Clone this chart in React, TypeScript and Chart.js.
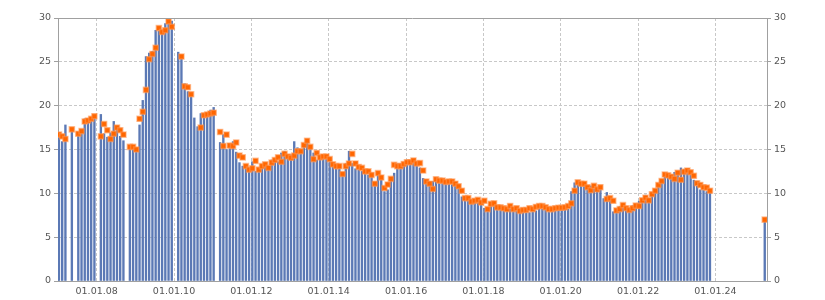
import { useEffect, useRef } from "react";
import { Chart, registerables } from "chart.js";

Chart.register(...registerables);

// Months counted from 01.01.2007 (0 = January 2007)
const AXIS_END_MONTH = 220;
const DAY_OFFSET = 0.3; // values dated ~10th of each month
const xTickMonths = [12, 36, 60, 84, 108, 132, 156, 180, 204];
const xTickLabels = ["01.01.08", "01.01.10", "01.01.12", "01.01.14", "01.01.16", "01.01.18", "01.01.20", "01.01.22", "01.01.24"];
const yMin = 0;
const yMax = 30;
const yStep = 5;

// Monthly bar values, Jan 2007 .. Nov 2023
const barValues: (number | null)[] = [
  16.5, 15.9, 17.8, null, 17.3, null, 17.0, 16.9, 18.5, 18.2,
  18.3, 18.7, null, 19.0, 16.8, 16.4, 16.9, 18.2, 17.6, 16.5,
  16.0, null, 15.3, 15.3, 14.9, 17.8, 20.6, 25.6, 26.0, 26.2,
  28.6, 28.5, 28.3, 29.35, 29.3, 29.65, null, 26.1, 25.4, 22.5,
  21.6, 21.2, 18.6, 17.6, 19.1, 18.8, 19.1, 19.5, 19.8, null,
  15.8, 16.7, 15.0, 15.1, 15.9, 14.7, 13.5, 13.1, 13.0, 12.7,
  13.6, 12.5, 12.7, 13.1, 13.25, 12.9, 13.8, 14.0, 13.6, 14.6,
  14.8, 14.4, 14.4, 15.9, 15.2, 14.8, 15.7, 16.1, 15.2, 14.6,
  13.8, 13.9, 14.2, 14.0, 13.6, 13.3, 13.1, 12.9, 12.1, 13.4,
  14.8, 13.4, 12.8, 12.7, 12.5, 12.3, 12.1, 12.3, 10.9, 12.5,
  11.7, 10.2, 10.4, 11.7, 12.3, 13.4, 13.4, 13.3, 13.4, 13.6,
  13.8, 13.3, 12.9, 11.7, 11.5, 11.35, 11.35, 11.5, 11.35, 11.2,
  11.2, 11.2, 11.0, 10.8, 10.6, 9.6, 9.4, 9.25, 9.25, 8.9,
  8.95, 8.75, 8.3, 8.3, 8.5, 8.5, 8.55, 8.4, 8.3, 8.1,
  8.2, 8.0, 8.0, 8.2, 7.9, 7.8, 7.8, 7.9, 8.0, 8.5,
  8.2, 8.1, 7.9, 8.0, 8.2, 8.3, 8.2, 8.1, 8.2, 10.2,
  11.2, 11.35, 11.2, 10.85, 10.6, 10.85, 10.5, 10.7, 10.5, 9.4,
  10.1, 9.6, 7.9, 7.9, 8.5, 8.3, 8.3, 8.1, 8.6, 8.8,
  9.1, 9.4, 9.8, 9.4, 9.8, 10.4, 11.1, 11.6, 12.0, 11.9,
  12.1, 12.4, 12.5, 12.9, 12.75, 12.7, 12.3, 11.5, 10.8, 10.4,
  10.4, 10.2, 10.2,
];

// Monthly point values, Jan 2007 .. Nov 2023
const pointValues: (number | null)[] = [
  16.7, 16.5, 16.2, null, 17.3, null, 16.8, 17.1, 18.2, 18.3,
  18.5, 18.8, null, 16.5, 17.9, 17.2, 16.2, 16.8, 17.5, 17.2,
  16.7, null, 15.3, 15.3, 15.0, 18.5, 19.3, 21.8, 25.3, 25.9,
  26.6, 28.85, 28.4, 28.6, 29.6, 29.0, null, null, 25.6, 22.2,
  22.1, 21.3, null, null, 17.5, 18.9, 19.0, 19.1, 19.2, null,
  17.0, 15.4, 16.7, 15.45, 15.4, 15.8, 14.3, 14.1, 13.1, 12.7,
  12.85, 13.7, 12.7, 13.1, 13.3, 12.9, 13.5, 13.8, 14.1, 13.6,
  14.5, 14.2, 14.05, 14.3, 14.8, 14.8, 15.5, 16.0, 15.3, 13.9,
  14.6, 14.1, 14.2, 14.2, 13.9, 13.3, 13.1, 13.1, 12.2, 13.1,
  13.4, 14.5, 13.4, 13.0, 12.9, 12.5, 12.5, 12.1, 11.1, 12.3,
  11.8, 10.6, 11.0, 11.65, 13.25, 13.1, 13.1, 13.35, 13.55, 13.55,
  13.75, 13.4, 13.45, 12.6, 11.35, 11.1, 10.5, 11.6, 11.45, 11.45,
  11.3, 11.35, 11.35, 11.1, 10.8, 10.3, 9.45, 9.45, 9.05, 9.15,
  9.25, 8.95, 9.15, 8.2, 8.8, 8.85, 8.4, 8.4, 8.3, 8.2,
  8.55, 8.2, 8.3, 8.0, 8.1, 8.1, 8.3, 8.2, 8.45, 8.55,
  8.55, 8.4, 8.2, 8.2, 8.3, 8.35, 8.35, 8.4, 8.55, 8.85,
  10.3, 11.25, 11.1, 11.1, 10.7, 10.35, 10.85, 10.45, 10.7, null,
  9.35, 9.45, 9.15, 8.05, 8.2, 8.65, 8.3, 8.1, 8.3, 8.6,
  8.55, 9.2, 9.5, 9.2, 9.9, 10.3, 10.95, 11.4, 12.15, 12.05,
  11.9, 11.65, 12.35, 11.55, 12.45, 12.6, 12.4, 12.0, 11.15, 10.95,
  10.7, 10.65, 10.3,
];

// Latest separate observation (April 2025)
const latestMonth = 219;
const latestBar = 6.9;
const latestPoint = 7.0;

const BAR_COLOR = "#5b79b5";
const POINT_COLOR = "#ff6600";
const POINT_HALO = "rgba(255,150,80,0.55)";
const GRID_COLOR = "#c8c8c8";
const AXIS_COLOR = "#a0a0a0";
const TEXT_COLOR = "#555555";
const FONT = { family: "DejaVu Sans", size: 9.5 };

function toXY(values: (number | null)[], lastMonth: number, lastValue: number) {
  const out: { x: number; y: number }[] = [];
  values.forEach((v, i) => {
    if (v !== null) out.push({ x: i + DAY_OFFSET, y: v });
  });
  out.push({ x: lastMonth + DAY_OFFSET, y: lastValue });
  return out;
}

const topBorder = {
  id: "topBorder",
  afterDraw(chart: any) {
    const { ctx, chartArea } = chart;
    ctx.save();
    ctx.strokeStyle = AXIS_COLOR;
    ctx.lineWidth = 1;
    ctx.beginPath();
    ctx.moveTo(chartArea.left, chartArea.top + 0.5);
    ctx.lineTo(chartArea.right, chartArea.top + 0.5);
    ctx.stroke();
    ctx.restore();
  },
};

export default function App() {
  const canvasRef = useRef<HTMLCanvasElement | null>(null);

  useEffect(() => {
    const canvas = canvasRef.current;
    if (!canvas) return;
    const yTickOpts = {
      color: TEXT_COLOR,
      font: FONT,
      stepSize: yStep,
      padding: 3,
    };
    const chart = new Chart(canvas, {
      type: "bar",
      data: {
        datasets: [
          {
            type: "line",
            data: toXY(pointValues, latestMonth, latestPoint),
            showLine: false,
            pointStyle: "rect",
            pointRadius: 3.6,
            pointBackgroundColor: POINT_COLOR,
            pointBorderColor: POINT_HALO,
            pointBorderWidth: 1.5,
            order: 0,
          } as any,
          {
            type: "bar",
            data: toXY(barValues, latestMonth, latestBar),
            backgroundColor: BAR_COLOR,
            barThickness: 1.7,
            order: 1,
          } as any,
        ],
      },
      options: {
        animation: false,
        responsive: false,
        devicePixelRatio: 1,
        layout: { padding: { top: 18, left: 0, right: 0, bottom: 0 } },
        plugins: { legend: { display: false }, tooltip: { enabled: false } },
        scales: {
          x: {
            type: "linear",
            min: 0,
            max: AXIS_END_MONTH,
            offset: false,
            afterBuildTicks: (scale: any) => {
              scale.ticks = xTickMonths.map((v) => ({ value: v }));
            },
            afterFit: (scale: any) => {
              scale.height = 19;
            },
            ticks: {
              color: TEXT_COLOR,
              font: FONT,
              padding: 5,
              maxRotation: 0,
              autoSkip: false,
              callback: (value: any) => {
                const idx = xTickMonths.indexOf(Number(value));
                return idx >= 0 ? xTickLabels[idx] : "";
              },
            },
            grid: {
              offset: false,
              color: GRID_COLOR,
              drawTicks: false,
            },
            border: { color: AXIS_COLOR, dash: [3, 2] } as any,
          },
          y: {
            type: "linear",
            position: "left",
            min: yMin,
            max: yMax,
            afterFit: (scale: any) => {
              scale.width = 58;
            },
            ticks: yTickOpts,
            grid: {
              color: GRID_COLOR,
              tickColor: AXIS_COLOR,
              tickLength: 4,
            },
            border: { color: AXIS_COLOR, dash: [3, 2] } as any,
          },
          y2: {
            type: "linear",
            position: "right",
            min: yMin,
            max: yMax,
            afterFit: (scale: any) => {
              scale.width = 58;
            },
            ticks: yTickOpts,
            grid: {
              drawOnChartArea: false,
              tickColor: AXIS_COLOR,
              tickLength: 4,
            },
            border: { color: AXIS_COLOR },
          },
        },
      },
      plugins: [topBorder],
    });
    return () => chart.destroy();
  }, []);

  return (
    <div style={{ position: "fixed", left: 0, top: 0, width: 825, height: 300, background: "#fff" }}>
      <canvas ref={canvasRef} width={825} height={300} />
    </div>
  );
}
